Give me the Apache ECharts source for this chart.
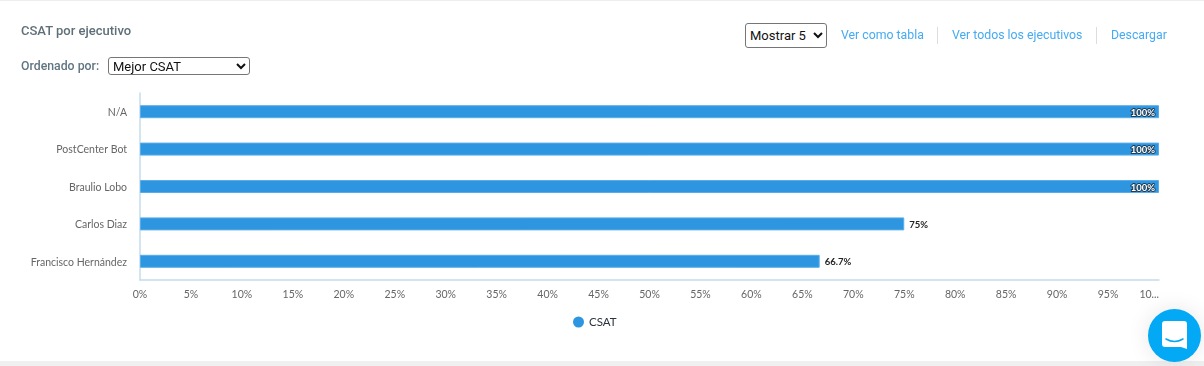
<!DOCTYPE html>
<html>
<head>
<meta charset="utf-8">
<title>CSAT por ejecutivo</title>
<script src="https://cdn.jsdelivr.net/npm/echarts@6/dist/echarts.min.js"></script>
<style>
  html, body { margin: 0; padding: 0; background: #fff; overflow: hidden; }
  body { width: 1204px; height: 366px; position: relative; font-family: Roboto, sans-serif; }
  #chart { position: absolute; left: 0; top: 0; width: 1204px; height: 366px; }
  .top-line { position: absolute; left: 0; top: 0; width: 1204px; height: 1px; background: #eeeeee; }
  .bottom-band { position: absolute; left: 0; top: 361px; width: 1204px; height: 5px; background: #f0f0f0; }
  .title { position: absolute; left: 21px; top: 23px; font-size: 13px; line-height: 16px; font-weight: 500; color: #5f6f78; }
  .order-label { position: absolute; left: 21px; top: 58px; font-size: 12.3px; line-height: 16px; font-weight: 500; color: #5f7582; }
  select { position: absolute; box-sizing: border-box; font-family: Roboto, sans-serif; font-size: 13px; color: #111; background: #fff; border: 1px solid #767676; border-radius: 3px; padding: 0; }
  #order { left: 108px; top: 57px; width: 142px; height: 18px; }
  #show { left: 745px; top: 23px; width: 82px; height: 25px; }
  .link { position: absolute; top: 27px; font-size: 12.3px; line-height: 17px; color: #45aaf2; white-space: nowrap; }
  .sep { position: absolute; top: 27px; width: 1px; height: 17px; background: #dddddd; }
  .chat { position: absolute; left: 1148px; top: 309px; width: 53px; height: 53px; border-radius: 50%; background: #03a9f4; box-shadow: 0 0 22px rgba(0,0,0,.10); }
  .chat svg { position: absolute; left: 14px; top: 12px; }
</style>
</head>
<body>
<div id="chart"></div>
<div class="top-line"></div>
<div class="bottom-band"></div>
<div class="title">CSAT por ejecutivo</div>
<div class="order-label">Ordenado por:</div>
<select id="order"><option>Mejor CSAT</option></select>
<select id="show"><option>Mostrar 5</option></select>
<div class="link" style="left:841px">Ver como tabla</div>
<div class="sep" style="left:937px"></div>
<div class="link" style="left:952px">Ver todos los ejecutivos</div>
<div class="sep" style="left:1096px"></div>
<div class="link" style="left:1111px">Descargar</div>
<div class="chat">
  <svg width="26" height="29" viewBox="0 0 26 29">
    <path d="M3 0H22a3 3 0 0 1 3 3V28L19 26H3a3 3 0 0 1-3-3V3a3 3 0 0 1 3-3Z" fill="#fff"/>
    <path d="M4 18Q12.500 23 21 18" fill="none" stroke="#03a9f4" stroke-width="1.500" stroke-linecap="round"/>
  </svg>
</div>
<script>
const categories = ['N/A', 'PostCenter Bot', 'Braulio Lobo', 'Carlos Diaz', 'Francisco Hernández'];
const csatValues = [100, 100, 100, 75, 66.7];
const seriesName = 'CSAT';
const shortTickLabels = { 100: '10...' };

const myChart = echarts.init(document.getElementById('chart'));

const option = {
  animation: false,
  textStyle: { fontFamily: 'Lato' },
  grid: { left: 140, right: 45, top: 93, height: 187, containLabel: false },
  legend: {
    top: 311,
    left: 568,
    icon: 'circle',
    itemWidth: 11,
    itemHeight: 11,
    itemGap: 6,
    itemStyle: { borderWidth: 0 },
    textStyle: { fontFamily: 'Lato', fontSize: 11.5, color: '#2b343e' }
  },
  xAxis: {
    type: 'value',
    min: 0,
    max: 100,
    interval: 5,
    axisLine: { show: true, lineStyle: { color: '#c5dcec', width: 1.5 } },
    axisTick: { show: false },
    splitLine: { show: false },
    axisLabel: {
      color: '#666',
      fontSize: 10.5,
      margin: 9,
      hideOverlap: false,
      alignMaxLabel: 'right',
      formatter: v => shortTickLabels[v] || v + '%'
    }
  },
  yAxis: {
    type: 'category',
    inverse: true,
    data: categories,
    axisLine: { show: true, lineStyle: { color: '#c5dcec', width: 1.5 } },
    axisTick: { show: false },
    axisLabel: { color: '#666', fontSize: 10.5, margin: 13, interval: 0, verticalAlign: 'top', lineHeight: 2 }
  },
  series: [
    {
      name: seriesName,
      type: 'bar',
      barWidth: 13,
      itemStyle: { color: '#2e96e0', borderColor: '#58ade9', borderWidth: 1 },
      data: csatValues.map(v => ({
        value: v,
        // las barras llenas llevan la etiqueta adentro
        label: v === 100
          ? { position: 'insideRight', distance: 4, color: '#fff', textBorderColor: '#1d3c55', textBorderWidth: 2 }
          : { position: 'right', distance: 5, color: '#222' }
      })),
      label: {
        show: true,
        fontFamily: 'Lato',
        fontSize: 9.5,
        fontWeight: 'bold',
        offset: [0, 1],
        formatter: p => p.value + '%'
      }
    }
  ]
};

myChart.setOption(option);
</script>
</body>
</html>
